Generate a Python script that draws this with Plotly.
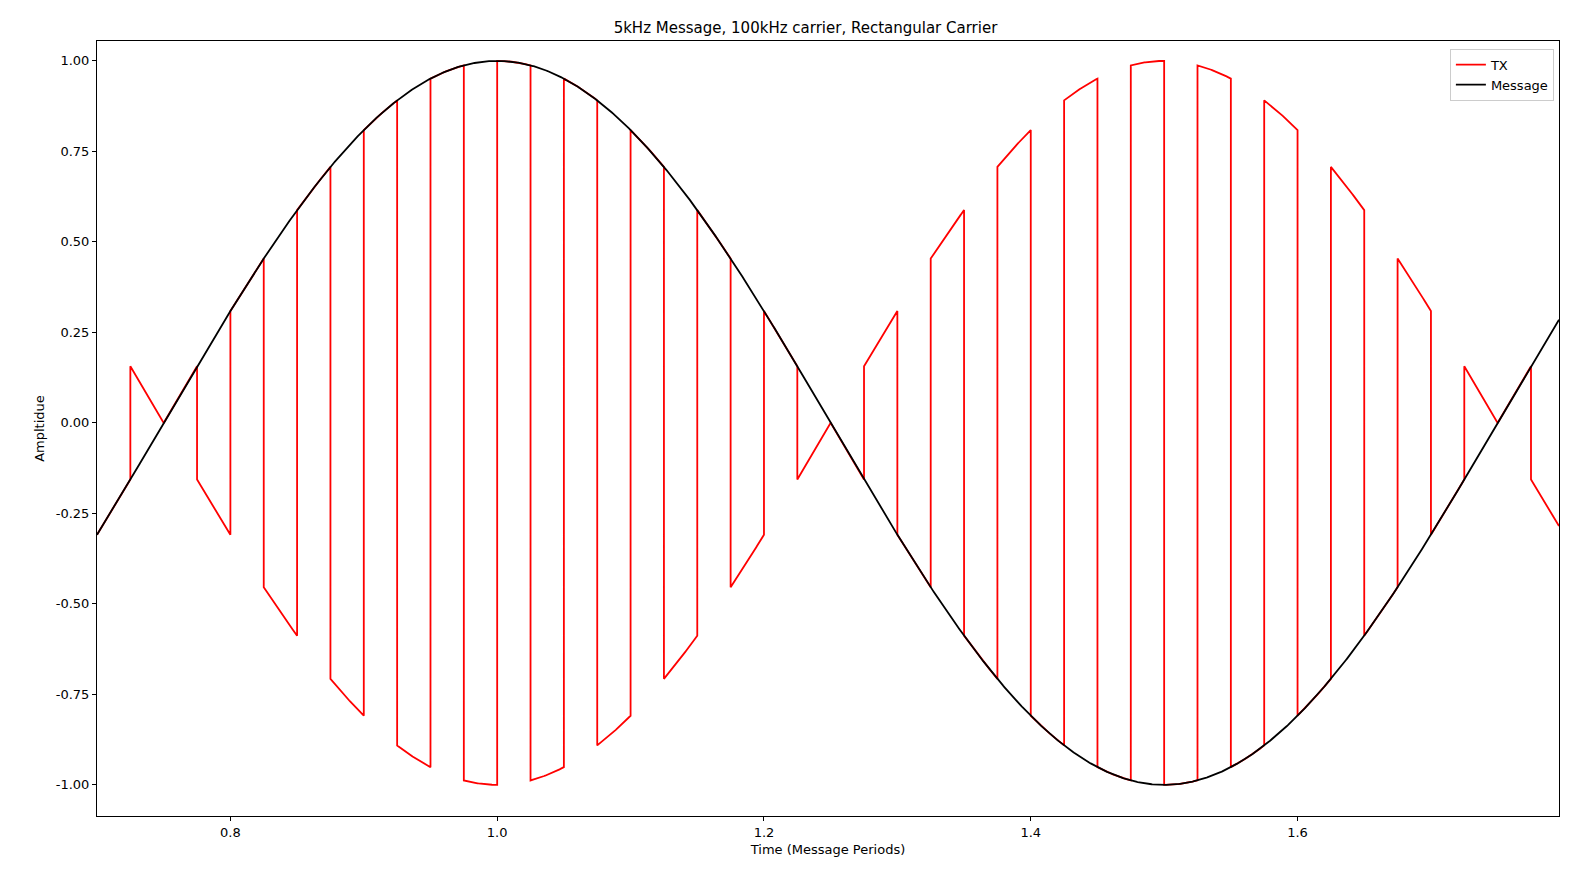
import numpy as np
import plotly.graph_objects as go

# Parameters read from the title / axes
message_freq_khz = 5
carrier_freq_khz = 100
t_start = 0.7
t_end = 1.796
x_ticks = [0.8, 1.0, 1.2, 1.4, 1.6]
y_ticks = [-1.0, -0.75, -0.5, -0.25, 0.0, 0.25, 0.5, 0.75, 1.0]

ratio = carrier_freq_khz / message_freq_khz
half = 0.5 / ratio
edges = np.arange(t_start, t_end + half, half)
edges = np.clip(edges, t_start, t_end)

tx_t, tx_y = [], []
for i in range(len(edges) - 1):
    a, b = edges[i], edges[i + 1]
    if b <= a:
        continue
    s = 1 if i % 2 == 0 else -1
    tt = np.linspace(a, b, 40)
    tx_t.extend(tt)
    tx_y.extend(s * np.cos(2 * np.pi * tt))

mt = np.linspace(t_start, t_end, 2000)
my = np.cos(2 * np.pi * mt)

fig = go.Figure()
fig.add_trace(go.Scatter(x=tx_t, y=tx_y, mode="lines", name="TX",
                         line=dict(color="red", width=1.8)))
fig.add_trace(go.Scatter(x=mt, y=my, mode="lines", name="Message",
                         line=dict(color="black", width=1.8)))

axis_common = dict(showgrid=False, zeroline=False, showline=True, mirror=True,
                   linecolor="black", linewidth=1, ticks="outside", ticklen=4,
                   tickcolor="black", tickfont=dict(size=13, color="black"))
fig.update_layout(
    width=1595, height=877,
    margin=dict(l=89, r=44, t=33, b=69),
    paper_bgcolor="white", plot_bgcolor="white",
    font=dict(family="DejaVu Sans", color="black"),
    title=dict(text="5kHz Message, 100kHz carrier, Rectangular Carrier",
               x=0.5, xanchor="center", y=0.978, yanchor="middle",
               font=dict(size=15)),
    xaxis=dict(range=[t_start, t_end], tickvals=x_ticks,
               ticktext=[f"{v:.1f}" for v in x_ticks],
               title=dict(text="Time (Message Periods)", font=dict(size=13), standoff=6),
               **axis_common),
    yaxis=dict(range=[-1.086, 1.055], tickvals=y_ticks,
               ticktext=[f"{v:.2f}" for v in y_ticks],
               title=dict(text="Ampltidue", font=dict(size=13), standoff=8),
               **axis_common),
    legend=dict(x=0.9965, y=0.99, xanchor="right", yanchor="top",
                bgcolor="white", bordercolor="#cccccc", borderwidth=1,
                font=dict(size=13)),
)
fig.write_html("out.html")
